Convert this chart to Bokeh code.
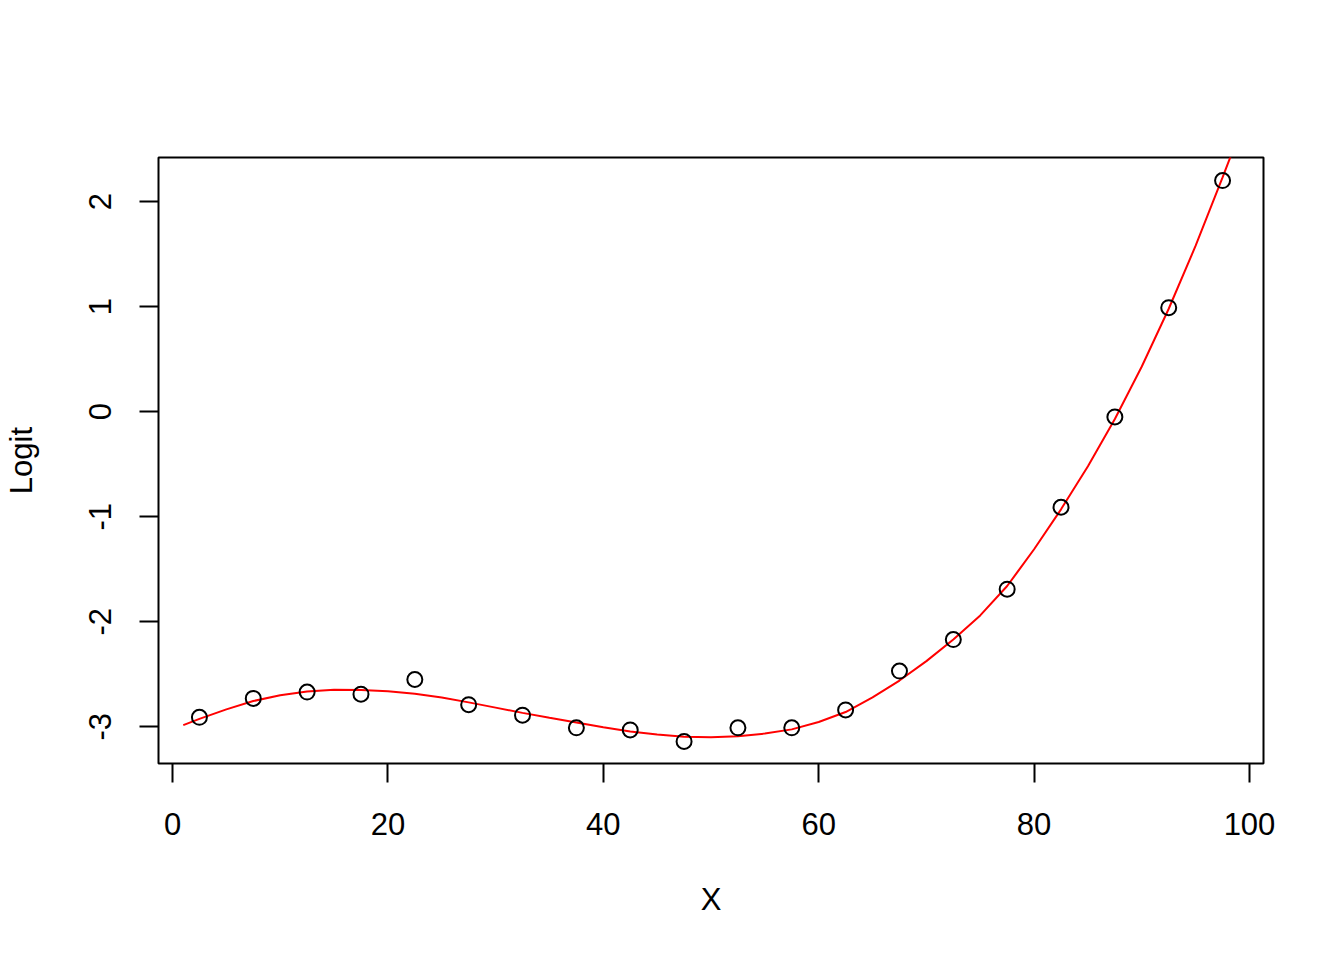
from bokeh.plotting import figure
from bokeh.models import Range1d, FixedTicker
from bokeh.embed import file_html
from bokeh.resources import INLINE

# Observed logits
x_obs = [2.5, 7.5, 12.5, 17.5, 22.5, 27.5, 32.5, 37.5, 42.5, 47.5,
         52.5, 57.5, 62.5, 67.5, 72.5, 77.5, 82.5, 87.5, 92.5, 97.5]
logit_obs = [-2.91, -2.73, -2.67, -2.69, -2.55, -2.79, -2.89, -3.01, -3.03, -3.14,
             -3.01, -3.01, -2.84, -2.47, -2.17, -1.69, -0.91, -0.05, 0.99, 2.20]

# Fitted curve
x_fit = [1, 2.5, 5, 7.5, 10, 12.5, 15, 17.5, 20, 22.5, 25, 27.5, 30, 32.5, 35, 37.5,
         40, 42.5, 45, 47.5, 50, 52.5, 55, 57.5, 60, 62.5, 65, 67.5, 70, 72.5,
         75, 77.5, 80, 82.5, 85, 87.5, 90, 92.5, 95, 97.5, 100]
logit_fit = [-2.985, -2.925, -2.835, -2.755, -2.70, -2.665, -2.648, -2.650, -2.662, -2.685,
             -2.722, -2.768, -2.818, -2.868, -2.915, -2.96, -3.005, -3.045, -3.075,
             -3.095, -3.10, -3.09, -3.065, -3.025, -2.955, -2.86, -2.72, -2.56, -2.375,
             -2.17, -1.94, -1.66, -1.31, -0.93, -0.52, -0.07, 0.43, 0.98, 1.58, 2.23, 2.90]

x_ticks = [0, 20, 40, 60, 80, 100]
y_ticks = [-3, -2, -1, 0, 1, 2]

FONT = "Liberation Sans"

p = figure(width=1328, height=944, output_backend="svg", toolbar_location=None,
           x_range=Range1d(-1.3, 101.3), y_range=Range1d(-3.35, 2.42),
           min_border_left=157, min_border_right=65, min_border_top=157,
           min_border_bottom=181)
p.background_fill_color = "white"
p.border_fill_color = "white"
p.outline_line_color = "black"
p.outline_line_width = 2
p.grid.visible = False

p.line(x_fit, logit_fit, line_color="red", line_width=2)
p.scatter(x_obs, logit_obs, marker="circle", size=15, fill_color=None,
          line_color="black", line_width=2)

for ax, ticks, lab in ((p.xaxis[0], x_ticks, "X"), (p.yaxis[0], y_ticks, "Logit")):
    ax.ticker = FixedTicker(ticks=ticks)
    ax.major_label_overrides = {t: str(t) for t in ticks}
    ax.axis_line_color = None
    ax.major_tick_line_color = "black"
    ax.major_tick_line_width = 2
    ax.major_tick_out = 19
    ax.major_tick_in = 0
    ax.minor_tick_line_color = None
    ax.major_label_text_font = FONT
    ax.major_label_text_font_size = "31px"
    ax.major_label_text_color = "black"
    ax.axis_label = lab
    ax.axis_label_text_font = FONT
    ax.axis_label_text_font_size = "31px"
    ax.axis_label_text_font_style = "normal"
    ax.axis_label_text_color = "black"

p.xaxis.major_label_standoff = 30
p.xaxis.axis_label_standoff = 44
p.yaxis.major_label_orientation = "vertical"
p.yaxis.major_label_standoff = 28
p.yaxis.axis_label_standoff = 48

open("out.html", "w").write(file_html(p, INLINE))
